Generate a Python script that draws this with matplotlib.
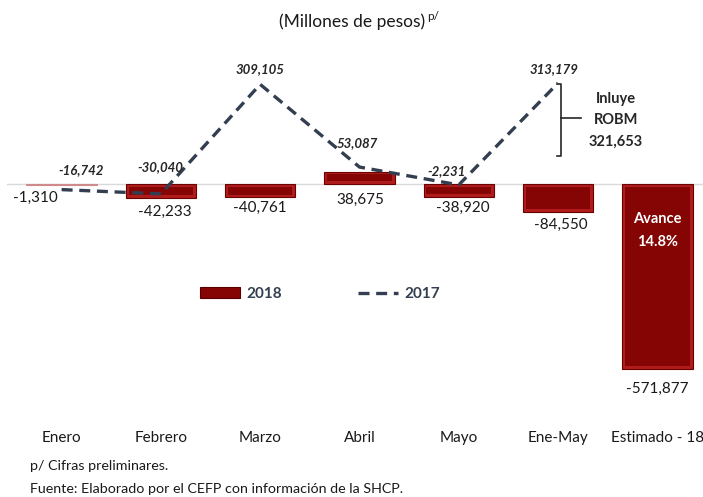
import matplotlib
matplotlib.use("Agg")
import matplotlib.pyplot as plt
from matplotlib.patches import Patch
import numpy as np

# datos
meses = ["Enero", "Febrero", "Marzo", "Abril", "Mayo", "Ene-May", "Estimado - 18"]
val_2018 = [-1310, -42233, -40761, 38675, -38920, -84550, -571877]
lab_2018 = ["-1,310", "-42,233", "-40,761", "38,675", "-38,920", "-84,550", "-571,877"]
val_2017 = [-16742, -30040, 309105, 53087, -2231, 313179]
lab_2017 = ["-16,742", "-30,040", "309,105", "53,087", "-2,231", "313,179"]

plt.rcParams['font.family'] = ['Lato', 'DejaVu Sans']

ROJO = '#b01c1c'
ROJO_OSC = '#850505'
GRIS = '#333f50'


def draw():
    fig = plt.figure(figsize=(7.03, 4.97), dpi=100)
    ax = fig.add_axes([7 / 703, 1 - 420 / 497, 696 / 703, 365 / 497])
    x = np.arange(len(meses))
    v18 = np.array(val_2018, dtype=float)

    ax.axhline(0, color='#d9d9d9', lw=1, zorder=0)
    barras = ax.bar(x, v18, width=0.71, color=ROJO, edgecolor='#6a0000', lw=0.8, zorder=2)
    barras[0].set_edgecolor('#d08a8a')
    barras[0].set_facecolor('#d08a8a')
    # bisel: interior mas oscuro
    bev = 8500
    big = np.abs(v18) > 3 * bev
    sgn = np.sign(v18)
    ax.bar(x[big], (v18 - 2 * bev * sgn)[big], bottom=(bev * sgn)[big], width=0.65,
           color=ROJO_OSC, lw=0, zorder=2)
    linea, = ax.plot(x[:6], val_2017, ls=(0, (3.3, 2)), color=GRIS, lw=2.4, zorder=3)

    # etiquetas de barras
    pos18 = [(-0.26, -43000), (0.04, -86000), (0, -74000), (0.01, -50000),
             (0.04, -74000), (0.03, -127000), (0, -635000)]
    for i, (dx, yy) in enumerate(pos18):
        ax.text(x[i] + dx, yy, lab_2018[i], ha='center', va='center',
                fontsize=11, color='#1a1a1a')

    # etiquetas de 2017
    pos17 = [(0.2, 43000), (-0.01, 53000), (0, 356000), (-0.02, 127000), (-0.12, 40000), (-0.04, 356000)]
    for i, (dx, yy) in enumerate(pos17):
        ax.text(x[i] + dx, yy, lab_2017[i], ha='center', va='center', fontsize=9.5,
                fontweight='bold', fontstyle='italic', color='#262626')

    # llave ROBM
    bx = x[5] + 0.03
    ax.plot([bx - 0.04, bx, bx, bx - 0.04], [310000, 310000, 88000, 88000], color='#262626', lw=1.2)
    ax.plot([bx, bx + 0.2], [205000, 205000], color='#262626', lw=1.2)
    ax.text(x[5] + 0.58, 198000, "Inluye\nROBM\n321,653", ha='center', va='center',
            fontsize=10.5, fontweight='bold', color='#262626', linespacing=1.65)

    ax.text(x[6], -143000, "Avance\n14.8%", ha='center', va='center', fontsize=10.5,
            fontweight='bold', color='white', linespacing=1.75)

    ax.set_xlim(-0.55, 6.46)
    ax.set_ylim(-730000, 400000)
    ax.set_xticks(x)
    ax.set_xticklabels(meses, fontsize=11, color='#1a1a1a')
    ax.tick_params(axis='x', length=0, pad=8)
    ax.set_yticks([])
    for s in ax.spines.values():
        s.set_visible(False)

    parche = Patch(facecolor=ROJO_OSC, edgecolor='#5a0000', lw=0.8)
    leg = ax.legend([parche, linea], ['2018', '2017'], loc='center',
                    bbox_to_anchor=(313 / 696, 1 - (294 - 55) / 365), ncol=2,
                    frameon=False, handlelength=2.6, columnspacing=5, handletextpad=0.4,
                    prop={'weight': 'bold', 'size': 11})
    for t in leg.get_texts():
        t.set_color(GRIS)

    fig.text(425 / 703, 1 - 22 / 497, "(Millones de pesos)", ha='right', va='center', fontsize=12.5, color='#1a1a1a')
    fig.text(427 / 703, 1 - 16 / 497, "p/", ha='left', va='center', fontsize=8.5, color='#1a1a1a')
    fig.text(30 / 703, 1 - 466 / 497, "p/ Cifras preliminares.", ha='left', va='center', fontsize=10.3, color='#1a1a1a')
    fig.text(30 / 703, 1 - 489 / 497, "Fuente: Elaborado por el CEFP con información de la SHCP.",
             ha='left', va='center', fontsize=10.3, color='#1a1a1a')

    fig.savefig("out.png", dpi=100)


def main():
    draw()


if __name__ == "__main__":
    main()
